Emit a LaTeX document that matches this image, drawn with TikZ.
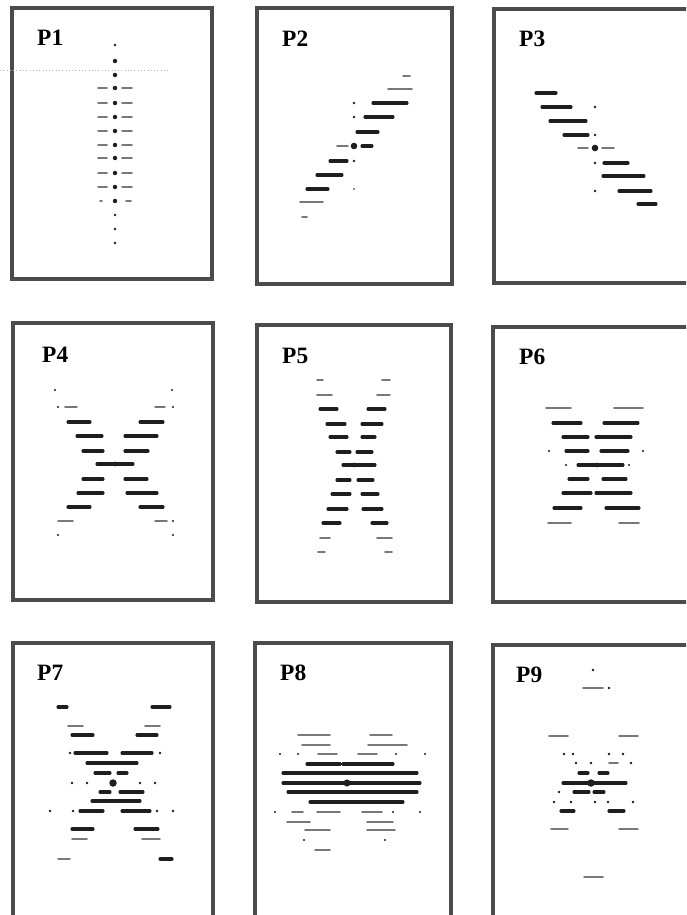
\documentclass[tikz,border=0pt]{standalone}
\usepackage{fontspec}
\setmainfont{Liberation Serif}
\usetikzlibrary{positioning}
\definecolor{ScanGray}{RGB}{75,75,75}
\definecolor{InkBlack}{RGB}{30,30,30}
\tikzset{
  panel/.style={draw=ScanGray,line width=3pt},
  plabel/.style={font=\fontsize{20}{20}\selectfont\bfseries,anchor=base west,
    inner sep=0pt},
  streak/.style={draw=InkBlack,line width=2.6pt,line cap=round},
  faint/.style={draw=InkBlack!60,line width=1.6pt,line cap=round},
  spot/.style={fill=InkBlack}
}

\begin{document}
\begin{tikzpicture}[x=0.03cm,y=-0.03cm]
\useasboundingbox (0,0) rectangle (686,915);
\clip (0,0) rectangle (686,915);

% Frames
\draw[panel] (12,8) rectangle (212,279);
\draw[panel] (257,8) rectangle (452,284);
\draw[panel] (494,9) rectangle (720,283);
\draw[panel] (13,323) rectangle (213,600);
\draw[panel] (257,325) rectangle (451,602);
\draw[panel] (493,327) rectangle (720,602);
\draw[panel] (13,643) rectangle (213,940);
\draw[panel] (255,643) rectangle (451,940);
\draw[panel] (493,645) rectangle (720,940);
\draw[black!30,dotted,line width=0.8pt] (0,70) -- (170,70);

% Labels
\node[plabel] (p1) at (37,45) {P1};
\node[plabel] (p2) at (282,46) {P2};
\node[plabel] (p3) at (519,46) {P3};
\node[plabel] (p4) at (42,362) {P4};
\node[plabel] (p5) at (282,363) {P5};
\node[plabel] (p6) at (519,364) {P6};
\node[plabel] (p7) at (37,680) {P7};
\node[plabel] (p8) at (280,680) {P8};
\node[plabel] (p9) at (516,682) {P9};

% P1
\foreach \y in {61,75,88,103,117,131,145,158,173,187,201}
  \fill[spot] (115,\y) circle (1.9pt);
\foreach \y in {45,215,229,243}
  \fill[spot] (115,\y) circle (1.1pt);
\foreach \y in {88,103,117,131,145,158,173,187}
  \draw[faint] (98,\y) -- (107,\y) (122,\y) -- (132,\y);
\draw[faint] (100,201) -- (102,201) (126,201) -- (131,201);

% P2
\draw[faint] (403,76) -- (410,76) (388,89) -- (412,89);
\draw[streak] (373,103) -- (407,103) (365,117) -- (393,117)
  (357,132) -- (378,132) (362,146) -- (372,146) (330,161) -- (347,161)
  (317,175) -- (342,175) (307,189) -- (328,189);
\draw[faint] (337,146) -- (348,146) (300,202) -- (323,202) (302,217) -- (307,217);
\fill[spot] (354,146) circle (2.8pt);
\foreach \y in {103,117,161}
  \fill[spot] (354,\y) circle (1.1pt);
\fill[spot] (354,189) circle (0.8pt);

% P3
\draw[streak] (536,93) -- (556,93) (542,107) -- (571,107)
  (550,121) -- (586,121) (564,135) -- (588,135) (604,163) -- (628,163)
  (603,176) -- (644,176) (619,191) -- (651,191) (638,204) -- (656,204);
\draw[faint] (578,148) -- (588,148) (602,148) -- (614,148);
\fill[spot] (595,148) circle (2.8pt);
\foreach \y in {107,135,163,191}
  \fill[spot] (595,\y) circle (1.1pt);

% P4
\draw[streak] (68,422) -- (90,422) (140,422) -- (163,422)
  (77,436) -- (102,436) (125,436) -- (157,436)
  (83,451) -- (103,451) (125,451) -- (148,451)
  (97,464) -- (133,464)
  (83,479) -- (103,479) (125,479) -- (147,479)
  (78,493) -- (103,493) (127,493) -- (157,493)
  (68,507) -- (90,507) (140,507) -- (163,507);
\draw[faint] (65,407) -- (77,407) (155,407) -- (165,407)
  (58,521) -- (73,521) (155,521) -- (167,521);
\fill[spot] (115,464) circle (2pt);
\foreach \p in {(55,390),(172,390),(58,407),(173,407),(173,521),(58,535),(173,535)}
  \fill[spot] \p circle (0.9pt);

% P5
\draw[streak] (320,409) -- (337,409) (368,409) -- (385,409)
  (327,424) -- (345,424) (362,424) -- (382,424)
  (330,437) -- (347,437) (362,437) -- (375,437)
  (337,452) -- (350,452) (357,452) -- (372,452)
  (343,465) -- (375,465)
  (337,480) -- (350,480) (358,480) -- (373,480)
  (332,494) -- (350,494) (362,494) -- (378,494)
  (328,509) -- (347,509) (363,509) -- (382,509)
  (323,523) -- (340,523) (372,523) -- (387,523);
\draw[faint] (317,380) -- (323,380) (382,380) -- (390,380)
  (317,395) -- (332,395) (377,395) -- (390,395)
  (320,538) -- (330,538) (377,538) -- (392,538)
  (318,552) -- (325,552) (385,552) -- (392,552);
\fill[spot] (354,465) circle (2pt);

% P6
\draw[faint] (546,408) -- (571,408) (614,408) -- (643,408)
  (548,523) -- (571,523) (619,523) -- (639,523);
\draw[streak] (553,423) -- (581,423) (604,423) -- (638,423)
  (563,437) -- (588,437) (596,437) -- (631,437)
  (566,451) -- (588,451) (601,451) -- (628,451)
  (578,465) -- (623,465)
  (569,479) -- (588,479) (603,479) -- (626,479)
  (563,493) -- (591,493) (596,493) -- (631,493)
  (554,508) -- (581,508) (606,508) -- (639,508);
\fill[spot] (597,465) circle (2pt);
\foreach \p in {(549,451),(643,451),(566,465),(629,465)}
  \fill[spot] \p circle (0.9pt);

% P7
\draw[streak] (58,707) -- (67,707) (152,707) -- (170,707)
  (72,735) -- (93,735) (137,735) -- (157,735)
  (75,753) -- (107,753) (122,753) -- (152,753)
  (87,763) -- (137,763)
  (95,773) -- (110,773) (118,773) -- (127,773)
  (100,792) -- (110,792) (120,792) -- (143,792)
  (92,801) -- (140,801)
  (80,811) -- (103,811) (122,811) -- (150,811)
  (72,829) -- (93,829) (135,829) -- (158,829)
  (160,859) -- (172,859);
\draw[faint] (68,726) -- (83,726) (145,726) -- (160,726)
  (72,839) -- (87,839) (142,839) -- (160,839)
  (58,859) -- (70,859);
\fill[spot] (113,783) circle (3.2pt);
\foreach \p in {(72,783),(87,783),(140,783),(155,783),(70,753),(160,753),
  (50,811),(73,811),(157,811),(173,811)}
  \fill[spot] \p circle (1.1pt);

% P8
\draw[faint] (298,735) -- (330,735) (370,735) -- (392,735)
  (302,745) -- (330,745) (368,745) -- (407,745)
  (318,754) -- (337,754) (358,754) -- (377,754)
  (292,812) -- (303,812) (317,812) -- (340,812) (362,812) -- (382,812)
  (287,822) -- (310,822) (367,822) -- (393,822)
  (305,830) -- (330,830) (367,830) -- (395,830)
  (315,850) -- (330,850);
\draw[streak] (307,764) -- (340,764) (343,764) -- (393,764)
  (283,773) -- (417,773) (283,783) -- (420,783)
  (288,792) -- (417,792) (310,802) -- (403,802);
\fill[spot] (347,783) circle (3pt);
\foreach \p in {(280,754),(298,754),(396,754),(425,754),(275,812),(393,812),
  (420,812),(304,840),(385,840)}
  \fill[spot] \p circle (1pt);

% P9
\draw[faint] (583,688) -- (603,688) (549,736) -- (568,736) (619,736) -- (638,736)
  (609,763) -- (618,763) (551,829) -- (568,829) (619,829) -- (638,829)
  (584,877) -- (603,877);
\draw[streak] (579,773) -- (588,773) (599,773) -- (608,773)
  (563,783) -- (626,783)
  (574,792) -- (589,792) (594,792) -- (604,792)
  (561,811) -- (574,811) (609,811) -- (624,811);
\fill[spot] (591,783) circle (3.2pt);
\foreach \p in {(593,670),(609,688),(564,754),(573,754),(609,754),(623,754),
  (576,763),(591,763),(631,763),(559,792),(554,802),(571,802),(595,802),
  (608,802),(633,802)}
  \fill[spot] \p circle (1.1pt);

\end{tikzpicture}
\end{document}
